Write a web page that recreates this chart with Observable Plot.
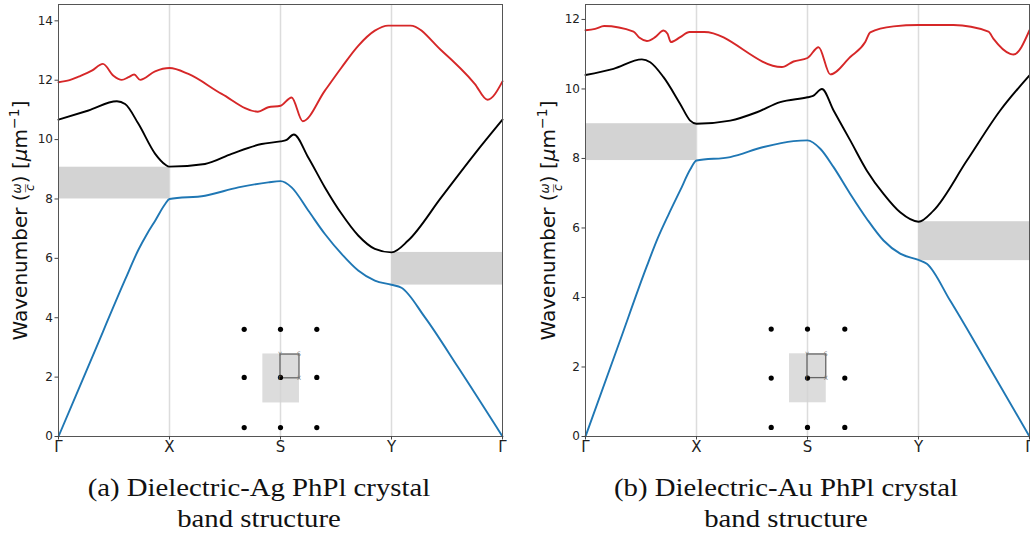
<!DOCTYPE html>
<html><head><meta charset="utf-8">
<script src="https://cdn.jsdelivr.net/npm/d3@7"></script>
<script src="https://cdn.jsdelivr.net/npm/@observablehq/plot@0.6"></script>
<style>
body{margin:0;background:#fff;width:1030px;height:533px;overflow:hidden;position:relative;font-family:"DejaVu Sans",sans-serif;}
#a{position:absolute;left:0;top:0}
#b{position:absolute;left:520px;top:0}
.cap{position:absolute;font-family:"Liberation Serif",serif;font-size:25px;text-align:center;color:#111;line-height:31px;width:420px;white-space:nowrap;transform:scaleX(1.15);transform-origin:50% 50%;}
</style></head><body>
<div id="a"></div><div id="b"></div>
<div class="cap" id="capA" style="left:49px;top:472px"></div>
<div class="cap" id="capB" style="left:576px;top:472px"></div>
<script>
// k-path positions: Γ=0, X=1, S=2, Y=3, Γ=4
const xTickPos = [0, 1, 2, 3, 4];
const xTickLabels = ["Γ", "X", "S", "Y", "Γ"];
const yLabel = "Wavenumber (ω/c) [μm⁻¹]";
const captionsA = ["(a) Dielectric-Ag PhPl crystal", "band structure"];
const captionsB = ["(b) Dielectric-Au PhPl crystal", "band structure"];

// ---- Panel (a): Dielectric-Ag ----
const agRedT = [0,0.1,0.18,0.3,0.40,0.495,0.57,0.63,0.682,0.736,0.87,1.0,1.17,1.47,1.796,1.89,2.0,2.10,2.20,2.40,2.55,2.70,2.85,2.97,3.17,3.45,3.75,3.865,4.0];
const agRedV = [11.93,12.0,12.12,12.32,12.55,12.15,12.01,12.1,12.19,12.01,12.3,12.41,12.21,11.54,10.94,11.09,11.14,11.42,10.62,11.65,12.43,13.16,13.67,13.84,13.84,13.0,11.88,11.34,11.96];
const agBlackT = [0,0.27,0.526,0.60,0.72,0.871,0.961,1.0,1.32,1.56,1.83,2.0,2.05,2.12,2.25,2.40,2.55,2.70,2.85,3.0,3.15,3.45,3.75,4.0];
const agBlackV = [10.67,10.98,11.29,11.20,10.53,9.52,9.16,9.09,9.18,9.52,9.85,9.94,9.98,10.17,9.40,8.39,7.50,6.77,6.32,6.20,6.60,8.06,9.52,10.67];
const agBlueT = [0,0.3,0.6,0.72,0.80,0.871,0.961,1.0,1.32,1.62,1.89,2.0,2.10,2.25,2.40,2.55,2.70,2.85,3.0,3.09,3.30,3.60,4.0];
const agBlueV = [0,2.64,5.28,6.29,6.84,7.27,7.83,8.0,8.11,8.39,8.56,8.60,8.39,7.61,6.82,6.15,5.59,5.25,5.11,5.01,4.02,2.33,0];
const agGapX1 = [0, 3], agGapX2 = [1, 4], agGapLo = [8.0, 5.1], agGapHi = [9.07, 6.2];
const agDotX = [1.673, 2.0, 2.327], agDotY = [3.61, 1.99, 0.30];
const agZoneX = [1.841, 2.171], agZoneY = [1.13, 2.78];
const agCellX = [2.0, 2.171], agCellY = [1.96, 2.76];

// ---- Panel (b): Dielectric-Au ----
const auRedT = [0,0.087,0.168,0.433,0.487,0.553,0.628,0.703,0.739,0.769,0.853,0.937,1.069,1.769,1.874,2.0,2.10,2.205,2.385,2.52,2.565,2.775,3.0,3.315,3.63,3.676,3.826,3.856,4.0];
const auRedV = [11.69,11.73,11.81,11.65,11.47,11.38,11.49,11.68,11.59,11.35,11.49,11.64,11.64,10.63,10.79,10.89,11.20,10.42,10.92,11.35,11.63,11.80,11.84,11.84,11.65,11.44,11.01,10.99,11.69];
const auBlackT = [0,0.252,0.508,0.583,0.703,0.853,0.943,1.0,1.304,1.544,1.754,2.0,2.05,2.13,2.235,2.385,2.535,2.685,2.835,3.0,3.135,3.436,3.736,4.0];
const auBlackV = [10.40,10.58,10.85,10.77,10.34,9.57,9.09,9.0,9.09,9.33,9.62,9.76,9.80,10.0,9.38,8.52,7.65,6.98,6.45,6.18,6.50,7.94,9.38,10.39];
const auBlueT = [0,0.3,0.55,0.65,0.75,0.853,0.943,1.0,1.304,1.604,1.874,2.0,2.115,2.235,2.385,2.535,2.685,2.835,3.0,3.075,3.285,3.586,4.0];
const auBlueV = [0,2.66,4.88,5.7,6.4,7.08,7.68,7.94,8.04,8.33,8.50,8.52,8.28,7.75,6.98,6.26,5.64,5.26,5.08,4.97,3.91,2.28,0];
const auGapX1 = [0, 3], auGapX2 = [1, 4], auGapLo = [7.94, 5.06], auGapHi = [9.0, 6.18];
const auDotX = [1.673, 2.0, 2.336], auDotY = [3.09, 1.68, 0.26];
const auZoneX = [1.838, 2.169], auZoneY = [0.97, 2.38];
const auCellX = [2.0, 2.169], auCellY = [1.68, 2.36];

const cellLabels = ["Y", "S", "Γ", "X"];
const bandColors = {red: "#d62728", black: "#000000", blue: "#1f77b4"};

function panel(o) {
  const rows = [];
  for (const [name, T, V] of o.bands) T.forEach((t, i) => rows.push({band: name, t, v: V[i]}));
  const gaps = o.gapX1.map((_, i) => ({x1: o.gapX1[i], x2: o.gapX2[i], y1: o.gapLo[i], y2: o.gapHi[i]}));
  const dots = [];
  o.dotX.forEach(x => o.dotY.forEach(y => dots.push({x, y})));
  const labs = [
    {x: o.cellX[0], y: o.cellY[1], s: cellLabels[0], dy: -4},
    {x: o.cellX[1], y: o.cellY[1], s: cellLabels[1], dy: -4},
    {x: o.cellX[0], y: o.cellY[0], s: cellLabels[2], dy: 5},
    {x: o.cellX[1], y: o.cellY[0], s: cellLabels[3], dy: 5}
  ];
  const svg = Plot.plot({
    width: o.width, height: 460,
    marginLeft: o.ml, marginRight: o.mr, marginTop: 4, marginBottom: 24,
    style: {fontFamily: "DejaVu Sans", fontSize: "12px", background: "transparent", color: "#222", overflow: "visible"},
    x: {domain: [0, 4]},
    y: {domain: [0, o.ymax]},
    marks: [
      Plot.ruleX([1, 2, 3], {stroke: "#dcdcdc", strokeWidth: 1.5}),
      Plot.rect(gaps, {x1: "x1", x2: "x2", y1: "y1", y2: "y2", fill: "#d3d3d3"}),
      Plot.rect([0], {x1: o.zoneX[0], x2: o.zoneX[1], y1: o.zoneY[0], y2: o.zoneY[1], fill: "#d3d3d3", fillOpacity: 0.8}),
      Plot.rect([0], {x1: o.cellX[0], x2: o.cellX[1], y1: o.cellY[0], y2: o.cellY[1], fill: "none", stroke: "#666", strokeWidth: 1.3}),
      Plot.dot(dots, {x: "x", y: "y", r: 2.6, fill: "#000", stroke: "none"}),
      Plot.text(labs, {x: "x", y: "y", text: "s", dy: "dy", fontSize: 6, fill: "#777"}),
      Plot.line(rows, {x: "t", y: "v", z: "band", stroke: d => bandColors[d.band], strokeWidth: 1.9, curve: "monotone-x"}),
      Plot.frame({stroke: "#555", strokeWidth: 1}),
      Plot.axisX({ticks: xTickPos, tickFormat: (d, i) => xTickLabels[i], tickSize: 3.5, tickPadding: 1.5, label: null, stroke: "#444"}),
      Plot.axisY({ticks: o.yTicks, tickSize: 3.5, tickPadding: 2, label: null, stroke: "#444"}),
      Plot.text([yLabel], {frameAnchor: "left", dx: o.labelDx, rotate: -90, textAnchor: "middle", fontSize: 20, fill: "#111"})
    ]
  });
  // font sizes for tick labels
  svg.querySelectorAll('g[aria-label="x-axis tick label"]').forEach(g => g.setAttribute("font-size", 15));
  svg.querySelectorAll('g[aria-label="y-axis tick label"]').forEach(g => g.setAttribute("font-size", 12));
  // typeset the y label: stacked ω over c, italic μ, superscript −1
  svg.querySelectorAll("text").forEach(t => {
    if (t.textContent !== yLabel) return;
    const ns = "http://www.w3.org/2000/svg";
    t.textContent = "";
    const add = (s, a = {}) => { const e = document.createElementNS(ns, "tspan"); for (const k in a) e.setAttribute(k, a[k]); e.textContent = s; t.append(e); };
    add("Wavenumber (");
    add("ω", {"font-size": 12, dy: -6, "font-style": "italic"});
    add("c", {"font-size": 12, dx: -7.6, dy: 13, "font-style": "italic"});
    add("—", {"font-size": 9, dx: -8.3, dy: -6.2});
    add(") [", {"font-size": 20, dx: 0.5, dy: -0.8});
    add("μ", {"font-style": "italic"});
    add("m");
    add("−1", {"font-size": 14, dy: -8});
    add("]", {"font-size": 20, dy: 8});
  });
  return svg;
}

document.getElementById("a").append(panel({
  width: 515, ml: 58, mr: 13, ymax: 14.55, yTicks: [0, 2, 4, 6, 8, 10, 12, 14], labelDx: -38,
  bands: [["red", agRedT, agRedV], ["black", agBlackT, agBlackV], ["blue", agBlueT, agBlueV]],
  gapX1: agGapX1, gapX2: agGapX2, gapLo: agGapLo, gapHi: agGapHi,
  dotX: agDotX, dotY: agDotY, zoneX: agZoneX, zoneY: agZoneY, cellX: agCellX, cellY: agCellY
}));
document.getElementById("b").append(panel({
  width: 510, ml: 65, mr: 1, ymax: 12.43, yTicks: [0, 2, 4, 6, 8, 10, 12], labelDx: -37,
  bands: [["red", auRedT, auRedV], ["black", auBlackT, auBlackV], ["blue", auBlueT, auBlueV]],
  gapX1: auGapX1, gapX2: auGapX2, gapLo: auGapLo, gapHi: auGapHi,
  dotX: auDotX, dotY: auDotY, zoneX: auZoneX, zoneY: auZoneY, cellX: auCellX, cellY: auCellY
}));
document.getElementById("capA").innerHTML = captionsA.join("<br>");
document.getElementById("capB").innerHTML = captionsB.join("<br>");
</script>
</body></html>
